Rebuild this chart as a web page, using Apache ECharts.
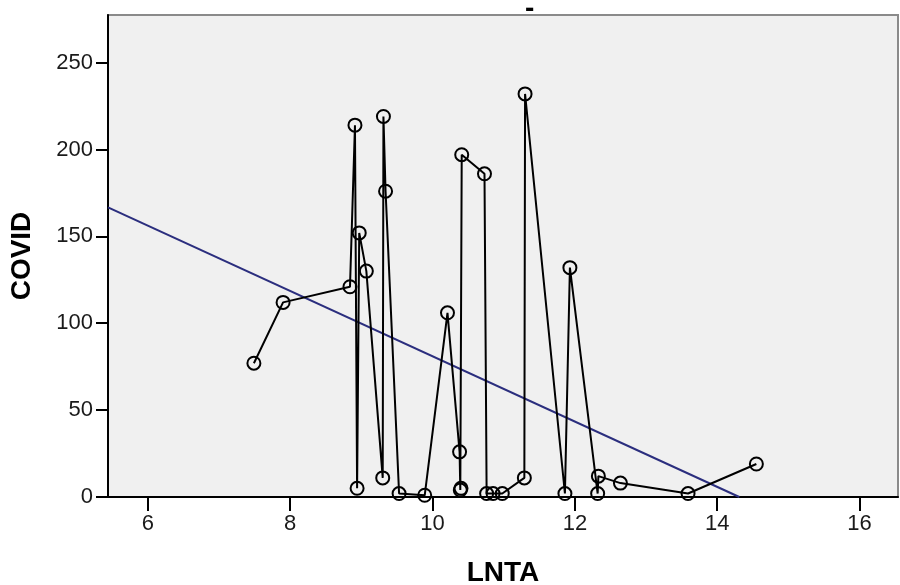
<!DOCTYPE html>
<html>
<head>
<meta charset="utf-8">
<title>COVID - LNTA</title>
<script src="https://cdn.jsdelivr.net/npm/echarts@6/dist/echarts.min.js"></script>
<style>
  html, body { margin: 0; padding: 0; background: #fff; }
  #chart { width: 900px; height: 585px; }
</style>
</head>
<body>
<div id="chart"></div>
<script>
// LNTA values, in the order the line joins them
var lnta = [7.49, 7.90, 8.84, 8.91, 8.94, 8.97, 9.07, 9.30, 9.31, 9.34, 9.53, 9.89,
            10.21, 10.38, 10.39, 10.40, 10.41, 10.73, 10.76, 10.85, 10.98, 11.29, 11.30,
            11.86, 11.93, 12.32, 12.33, 12.64, 13.59, 14.55];
// COVID values for the same cases
var covid = [77, 112, 121, 214, 5, 152, 130, 11, 219, 176, 2, 1,
             106, 26, 4, 5, 197, 186, 2, 2, 2, 11, 232,
             2, 132, 2, 12, 8, 2, 19];
// fit line ends (LNTA, COVID)
var fitX = [5.44, 14.31];
var fitY = [166.7, 0];

var xTicks = [6, 8, 10, 12, 14, 16];
var yTicks = [0, 50, 100, 150, 200, 250];

var points = [];
for (var i = 0; i < lnta.length; i++) {
    points.push([lnta[i], covid[i]]);
}
var fit = [];
for (var j = 0; j < fitX.length; j++) {
    fit.push([fitX[j], fitY[j]]);
}

var chart = echarts.init(document.getElementById('chart'));
var font = 'Liberation Sans, Arial, sans-serif';

var option = {
    animation: false,
    backgroundColor: '#fff',
    title: {
        text: '-',
        left: 520,
        top: -10,
        textStyle: { fontSize: 28, fontWeight: 'bold', color: '#000', fontFamily: font }
    },
    grid: {
        left: 108, right: 2, top: 15, bottom: 88,
        outerBoundsMode: 'none',
        containLabel: false,
        show: true,
        backgroundColor: '#f0f0f0',
        borderColor: '#8a8a8a',
        borderWidth: 2
    },
    xAxis: {
        type: 'value',
        min: 5.44,
        max: 16.54,
        name: 'LNTA',
        nameLocation: 'middle',
        nameGap: 62,
        nameTextStyle: { fontSize: 28, fontWeight: 'bold', color: '#000', fontFamily: font },
        axisLine: { show: true, onZero: false, lineStyle: { color: '#000', width: 2 } },
        axisTick: { show: true, length: 14, customValues: xTicks, lineStyle: { color: '#000', width: 2 } },
        axisLabel: { customValues: xTicks, margin: 16, fontSize: 22, color: '#1a1a1a', fontFamily: font },
        splitLine: { show: false }
    },
    yAxis: {
        type: 'value',
        min: 0,
        max: 277.4,
        name: 'COVID',
        nameLocation: 'middle',
        nameRotate: 90,
        nameGap: 72,
        nameTextStyle: { fontSize: 28, fontWeight: 'bold', color: '#000', fontFamily: font },
        axisLine: { show: true, onZero: false, lineStyle: { color: '#000', width: 2 } },
        axisTick: { show: true, length: 12, customValues: yTicks, lineStyle: { color: '#000', width: 2 } },
        axisLabel: { customValues: yTicks, margin: 15, fontSize: 22, color: '#1a1a1a', fontFamily: font },
        splitLine: { show: false }
    },
    series: [
        {
            type: 'line',
            data: fit,
            symbol: 'none',
            lineStyle: { color: '#2b2e7e', width: 2 },
            z: 2
        },
        {
            type: 'line',
            data: points,
            symbol: 'circle',
            symbolSize: 13,
            itemStyle: { color: 'transparent', borderColor: '#000', borderWidth: 2 },
            lineStyle: { color: '#000', width: 2 },
            clip: false,
            z: 3
        }
    ]
};
chart.setOption(option);
</script>
</body>
</html>
